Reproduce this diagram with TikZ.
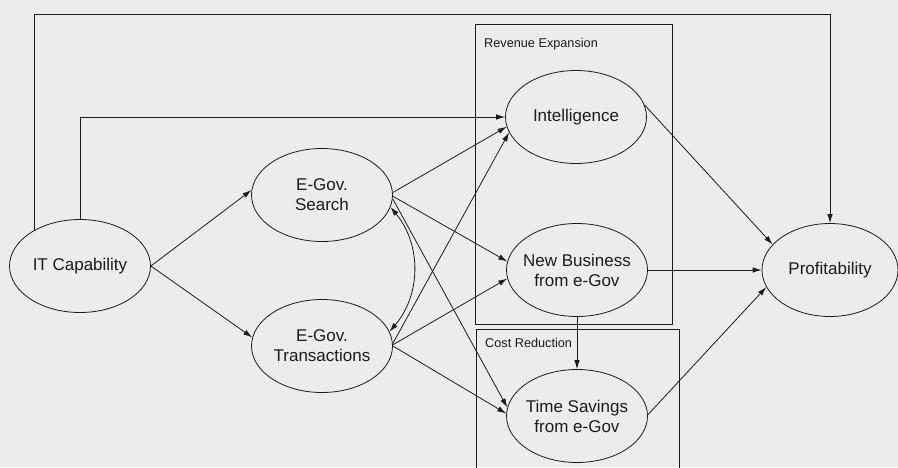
\documentclass[tikz,border=0pt]{standalone}
\usepackage{fontspec}
\setmainfont{Liberation Sans}
\usetikzlibrary{shapes.geometric,arrows.meta}
\definecolor{paper}{RGB}{236,236,236}
\definecolor{ink}{RGB}{28,28,28}
\begin{document}
\begin{tikzpicture}[x=1pt,y=-1pt,
  ell/.style={ellipse,draw=ink,line width=0.8pt,inner sep=0pt,
              minimum width=141pt,minimum height=93pt},
  txt/.style={font=\fontsize{17}{20}\selectfont,align=center,text=ink,inner sep=0pt},
  tag/.style={font=\fontsize{12.7}{15}\selectfont,anchor=west,inner sep=0pt,text=ink},
  link/.style={draw=ink,line width=0.8pt,-{Latex[length=9pt,width=5.5pt]}},
  twoway/.style={draw=ink,line width=0.8pt,{Latex[length=9pt,width=5.5pt]}-{Latex[length=9pt,width=5.5pt]}},
  frame/.style={draw=ink,line width=0.8pt}]

% canvas
\useasboundingbox (0,0) rectangle (898,467);
\fill[paper] (0,0) rectangle (898,467);

% group frames
\draw[frame] (475,24) rectangle (672,324);
\node[tag] (revlbl) at (484,44) {Revenue Expansion};
\draw[frame] (476,470) -- (476,329) -- (679,329) -- (679,470);
\node[tag] (costlbl) at (485,343) {Cost Reduction};

% constructs
\node[ell,label={[txt]center:IT Capability}] (it) at (80,266) {};
\node[ell,label={[txt]center:E-Gov.\\Search}] (search) at (322,195) {};
\node[ell,label={[txt]center:E-Gov.\\Transactions}] (trans) at (322,346) {};
\node[ell,label={[txt]center:Intelligence}] (intel) at (576,117) {};
\node[ell,label={[txt]center:New Business\\from e-Gov}] (newb) at (577,270) {};
\node[ell,label={[txt]center:Time Savings\\from e-Gov}] (time) at (577,416) {};
\node[ell,minimum width=136pt,label={[txt]center:Profitability}] (profit) at (830,270) {};

% helper heights for the elbow connectors
\coordinate (topy) at (0,14);

% direct paths from IT capability
\draw[link] (it.142) -- (it.142 |- topy) -| (profit.north);
\draw[link] (it.north) |- (intel.west);
\draw[link] (it.east) -- (search.176);
\draw[link] (it.east) -- (trans.173);

% e-government usage to outcomes
\draw[link] (search.2) -- (intel.188);
\draw[link] (search.-1) -- (newb.173);
\draw[link] (search.-3) -- (time.173);
\draw[link] (trans.2) -- (intel.193);
\draw[link] (trans.1) -- (newb.187);
\draw[link] (trans.0) -- (time.178);
\draw[twoway] (search.-10) to[bend left=40] (trans.12);

% outcomes to profitability
\draw[link] (newb.south) -- (time.north);
\draw[link] (intel.10) -- (profit.156);
\draw[link] (newb.east) -- (profit.west);
\draw[link] (time.1) -- (profit.195);
\end{tikzpicture}
\end{document}
